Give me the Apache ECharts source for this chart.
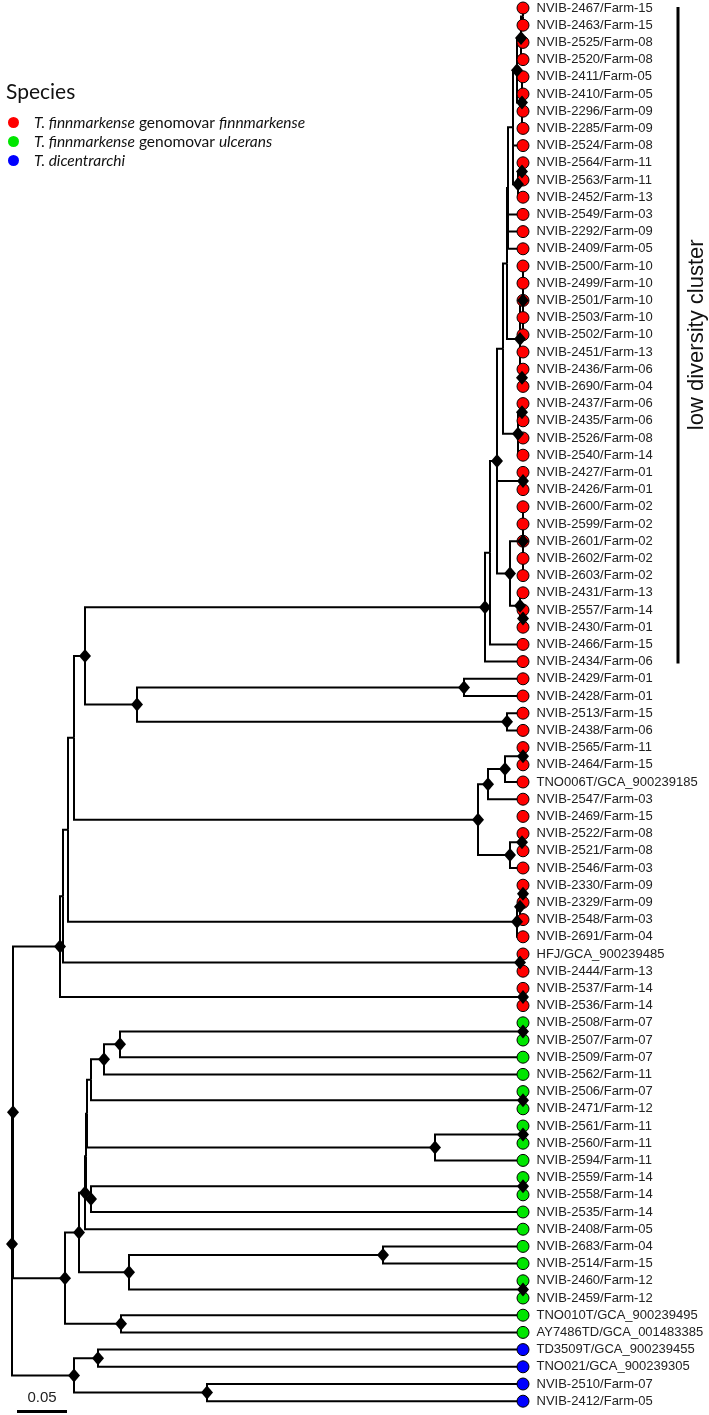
<!DOCTYPE html>
<html>
<head>
<meta charset="utf-8">
<title>Tenacibaculum tree</title>
<script src="https://cdn.jsdelivr.net/npm/echarts@6/dist/echarts.min.js"></script>
<style>
    html, body { margin: 0; padding: 0; background: #fff; }
    #tree { width: 709px; height: 1415px; }
</style>
</head>
<body>
<div id="tree"></div>
<script>
// leaves, top to bottom
const leafNames = [
    'NVIB-2467/Farm-15', 'NVIB-2463/Farm-15', 'NVIB-2525/Farm-08', 'NVIB-2520/Farm-08',
    'NVIB-2411/Farm-05', 'NVIB-2410/Farm-05', 'NVIB-2296/Farm-09', 'NVIB-2285/Farm-09',
    'NVIB-2524/Farm-08', 'NVIB-2564/Farm-11', 'NVIB-2563/Farm-11', 'NVIB-2452/Farm-13',
    'NVIB-2549/Farm-03', 'NVIB-2292/Farm-09', 'NVIB-2409/Farm-05', 'NVIB-2500/Farm-10',
    'NVIB-2499/Farm-10', 'NVIB-2501/Farm-10', 'NVIB-2503/Farm-10', 'NVIB-2502/Farm-10',
    'NVIB-2451/Farm-13', 'NVIB-2436/Farm-06', 'NVIB-2690/Farm-04', 'NVIB-2437/Farm-06',
    'NVIB-2435/Farm-06', 'NVIB-2526/Farm-08', 'NVIB-2540/Farm-14', 'NVIB-2427/Farm-01',
    'NVIB-2426/Farm-01', 'NVIB-2600/Farm-02', 'NVIB-2599/Farm-02', 'NVIB-2601/Farm-02',
    'NVIB-2602/Farm-02', 'NVIB-2603/Farm-02', 'NVIB-2431/Farm-13', 'NVIB-2557/Farm-14',
    'NVIB-2430/Farm-01', 'NVIB-2466/Farm-15', 'NVIB-2434/Farm-06', 'NVIB-2429/Farm-01',
    'NVIB-2428/Farm-01', 'NVIB-2513/Farm-15', 'NVIB-2438/Farm-06', 'NVIB-2565/Farm-11',
    'NVIB-2464/Farm-15', 'TNO006T/GCA_900239185', 'NVIB-2547/Farm-03', 'NVIB-2469/Farm-15',
    'NVIB-2522/Farm-08', 'NVIB-2521/Farm-08', 'NVIB-2546/Farm-03', 'NVIB-2330/Farm-09',
    'NVIB-2329/Farm-09', 'NVIB-2548/Farm-03', 'NVIB-2691/Farm-04', 'HFJ/GCA_900239485',
    'NVIB-2444/Farm-13', 'NVIB-2537/Farm-14', 'NVIB-2536/Farm-14', 'NVIB-2508/Farm-07',
    'NVIB-2507/Farm-07', 'NVIB-2509/Farm-07', 'NVIB-2562/Farm-11', 'NVIB-2506/Farm-07',
    'NVIB-2471/Farm-12', 'NVIB-2561/Farm-11', 'NVIB-2560/Farm-11', 'NVIB-2594/Farm-11',
    'NVIB-2559/Farm-14', 'NVIB-2558/Farm-14', 'NVIB-2535/Farm-14', 'NVIB-2408/Farm-05',
    'NVIB-2683/Farm-04', 'NVIB-2514/Farm-15', 'NVIB-2460/Farm-12', 'NVIB-2459/Farm-12',
    'TNO010T/GCA_900239495', 'AY7486TD/GCA_001483385', 'TD3509T/GCA_900239455',
    'TNO021/GCA_900239305', 'NVIB-2510/Farm-07', 'NVIB-2412/Farm-05'
];
// 0 = genomovar finnmarkense, 1 = genomovar ulcerans, 2 = T. dicentrarchi
const leafSpecies = [
    0, 0, 0, 0, 0, 0, 0, 0, 0, 0, 0, 0, 0, 0, 0, 0, 0, 0, 0, 0,
    0, 0, 0, 0, 0, 0, 0, 0, 0, 0, 0, 0, 0, 0, 0, 0, 0, 0, 0, 0,
    0, 0, 0, 0, 0, 0, 0, 0, 0, 0, 0, 0, 0, 0, 0, 0, 0, 0, 0,
    1, 1, 1, 1, 1, 1, 1, 1, 1, 1, 1, 1, 1, 1, 1, 1, 1, 1, 1,
    2, 2, 2, 2
];
const speciesKeys = ['finnmarkense', 'ulcerans', 'dicentrarchi'];
const speciesColors = ['#ff0000', '#00e600', '#0000ff'];

// all leaves sit at the same distance from the root
const tipDepth = 0.511;

// internal nodes: id, distance from root, children (numbers = leaf rows, strings = node ids)
const nodeIds = [
    'root', 'Na', 'M1', 'N62', 'N66', 'N73', 'N85', 'CR', 'CA', 'A',
    'N503', 'N507', 'U1', 'U2', 'N517a', 'T0123', 'T01', 'T47', 'N518b', 'T910',
    'N520b', 'T1519', 'T2122', 'N518', 'T2324', 'T2728', 'N510b', 'TX', 'TY', 'T3536',
    'N137', 'N464', 'N507c', 'N478', 'N488', 'N505', 'T4344', 'N510', 'T4849', 'T3',
    'T2', 'T1', 'T5556', 'T5758', 'G', 'N79', 'Q', 'X', 'P1', 'N91a',
    'N104', 'N120', 'T5960', 'T6364', 'N435', 'T6566', 'N91b', 'T6869', 'N129', 'N383',
    'T7475', 'N121', 'B', 'N97', 'N207'
];
const nodeDepth = [
    0.000, 0.001, 0.048, 0.051, 0.056, 0.062, 0.073, 0.473, 0.478, 0.485,
    0.491, 0.495, 0.496, 0.501, 0.505, 0.509, 0.511, 0.510, 0.506, 0.510,
    0.508, 0.511, 0.510, 0.506, 0.510, 0.511, 0.498, 0.511, 0.508, 0.511,
    0.125, 0.452, 0.495, 0.466, 0.476, 0.493, 0.511, 0.498, 0.510, 0.505,
    0.508, 0.511, 0.508, 0.511, 0.053, 0.067, 0.073, 0.074, 0.075, 0.079,
    0.092, 0.108, 0.511, 0.511, 0.423, 0.511, 0.079, 0.511, 0.117, 0.371,
    0.511, 0.109, 0.062, 0.086, 0.195
];
const nodeKids = [
    ['Na', 'B'], ['M1', 'G'], ['N62', 'T5758'], ['N66', 'T5556'], ['N73', 'T3'],
    ['N85', 'N478'], ['CR', 'N137'], ['CA', 38], ['A', 37], ['N503', 'T2728', 'N510b'],
    ['N507', 'N518'], ['U1', 'N520b'], ['U2', 12, 13, 14], ['N517a', 8, 'N518b'], ['T0123', 'T47'],
    ['T01', 2, 3], [0, 1], [4, 5, 6, 7], ['T910', 11], [9, 10],
    ['T1519', 20, 'T2122'], [15, 16, 17, 18, 19], [21, 22], ['T2324', 25, 26], [23, 24],
    [27, 28], ['TX', 'TY'], [29, 30, 31, 32, 33], [34, 'T3536'], [35, 36],
    ['N464', 'N507c'], [39, 40], [41, 42], ['N488', 'N510'], ['N505', 46],
    ['T4344', 45], [43, 44], ['T4849', 50], [48, 49], ['T2', 54],
    ['T1', 53], [51, 52], [55, 56], [57, 58], ['N79', 'N121'],
    ['Q', 'N129'], ['X', 71], ['P1', 'N91b'], ['N91a', 'N435'], ['N104', 'T6364'],
    ['N120', 62], ['T5960', 61], [59, 60], [63, 64], ['T6566', 67],
    [65, 66], ['T6869', 70], [68, 69], ['N383', 'T7475'], [72, 73],
    [74, 75], [76, 77], ['N97', 'N207'], [78, 79], [80, 81]
];
// nodes drawn without a support diamond
const unmarkedNodes = ['N62', 'N66', 'N73', 'CA', 'N503', 'N507', 'U1', 'U2', 'T01', 'N91a', 'P1', 'X'];

const scaleBar = 0.05;
const clusterRows = [0, 38];
const clusterLabel = 'low diversity cluster';

// --- layout (rectangular cladogram, leaves at integer rows) ---
const nodeIndex = {};
nodeIds.forEach((id, i) => { nodeIndex[id] = i; });
const yCache = {};
function rowOf(k) {
    if (typeof k === 'number') return k;
    if (yCache[k] === undefined) {
        const kids = nodeKids[nodeIndex[k]];
        yCache[k] = (rowOf(kids[0]) + rowOf(kids[kids.length - 1])) / 2;
    }
    return yCache[k];
}
function depthOf(k) {
    return typeof k === 'number' ? tipDepth : nodeDepth[nodeIndex[k]];
}

const branchData = [];
nodeIds.forEach((id, i) => {
    nodeKids[i].forEach(k => {
        branchData.push([nodeDepth[i], rowOf(id), depthOf(k), rowOf(k)]);
    });
});
const diamondData = nodeIds
    .filter(id => unmarkedNodes.indexOf(id) < 0)
    .map(id => [depthOf(id), rowOf(id)]);

const leafSeries = speciesKeys.map((key, s) => ({
    name: key,
    type: 'scatter',
    z: 3,
    symbol: 'circle',
    symbolSize: 12,
    itemStyle: { color: speciesColors[s], borderColor: '#000', borderWidth: 1, opacity: 1 },
    label: {
        show: true,
        position: 'right',
        distance: 7,
        formatter: p => p.data[2],
        color: '#222',
        fontSize: 13,
        fontFamily: '"Liberation Sans", Arial, sans-serif'
    },
    emphasis: { disabled: true },
    data: leafNames.map((n, i) => [tipDepth, i, n]).filter((d, i) => leafSpecies[i] === s)
}));

const legendText = {
    finnmarkense: '{g| }{i|T. finnmarkense} {n|genomovar} {i|finnmarkense}',
    ulcerans: '{g| }{i|T. finnmarkense} {n|genomovar} {i|ulcerans}',
    dicentrarchi: '{g| }{i|T. dicentrarchi}'
};

const chart = echarts.init(document.getElementById('tree'), null, { renderer: 'canvas' });
const rowPx = 17.2;
const legendFont = 'Lato, "Open Sans", sans-serif';

chart.setOption({
    animation: false,
    backgroundColor: '#fff',
    title: {
        text: 'Species',
        left: 1,
        top: 77,
        textStyle: { fontSize: 21, fontWeight: 'normal', color: '#111', fontFamily: legendFont }
    },
    legend: {
        orient: 'vertical',
        left: 3,
        top: 108,
        itemWidth: 11,
        itemHeight: 11,
        itemGap: 0,
        icon: 'circle',
        selectedMode: false,
        itemStyle: { borderWidth: 0 },
        data: speciesKeys,
        formatter: name => legendText[name],
        textStyle: {
            lineHeight: 19,
            fontSize: 15.5,
            color: '#111',
            fontFamily: legendFont,
            rich: {
                g: { width: 10 },
                i: { fontStyle: 'italic', fontSize: 15.5, fontFamily: legendFont },
                n: { fontSize: 15.5, fontFamily: legendFont }
            }
        }
    },
    grid: { left: 12, top: 8, width: 511, height: rowPx * 81 },
    xAxis: { type: 'value', min: 0, max: tipDepth, show: false },
    yAxis: { type: 'value', min: 0, max: 81, inverse: true, show: false },
    series: [
        {
            name: 'branches',
            type: 'custom',
            z: 1,
            silent: true,
            renderItem: (params, api) => {
                const a = api.coord([api.value(0), api.value(1)]);
                const b = api.coord([api.value(0), api.value(3)]);
                const c = api.coord([api.value(2), api.value(3)]);
                return {
                    type: 'polyline',
                    shape: { points: [a, b, c] },
                    style: { stroke: '#000', lineWidth: 2, fill: null, lineJoin: 'miter' }
                };
            },
            encode: { x: [0, 2], y: [1, 3] },
            data: branchData
        },
        ...leafSeries,
        {
            name: 'support',
            type: 'scatter',
            z: 4,
            silent: true,
            symbol: 'diamond',
            symbolSize: [12, 14],
            itemStyle: { color: '#000', opacity: 1 },
            data: diamondData
        },
        {
            name: 'scale',
            type: 'custom',
            silent: true,
            renderItem: (params, api) => {
                const a = api.coord([0.005, 81.6]);
                const b = api.coord([0.005 + api.value(0), 81.6]);
                return {
                    type: 'group',
                    children: [
                        { type: 'line', shape: { x1: a[0], y1: a[1], x2: b[0], y2: b[1] }, style: { stroke: '#000', lineWidth: 3 } },
                        {
                            type: 'text',
                            style: {
                                x: (a[0] + b[0]) / 2, y: a[1] - 6, text: String(api.value(0)),
                                textAlign: 'center', textVerticalAlign: 'bottom',
                                fontSize: 15, fill: '#222', fontFamily: '"Liberation Sans", Arial, sans-serif'
                            }
                        }
                    ]
                };
            },
            data: [[scaleBar]]
        },
        {
            name: 'cluster',
            type: 'custom',
            silent: true,
            renderItem: (params, api) => {
                const top = api.coord([tipDepth, api.value(0)]);
                const bot = api.coord([tipDepth, api.value(1)]);
                const x = top[0] + 155;
                return {
                    type: 'group',
                    children: [
                        { type: 'line', shape: { x1: x, y1: top[1] - 1, x2: x, y2: bot[1] + 2 }, style: { stroke: '#000', lineWidth: 3 } },
                        {
                            type: 'text',
                            x: x + 19, y: (top[1] + bot[1]) / 2,
                            rotation: Math.PI / 2,
                            style: {
                                text: clusterLabel, textAlign: 'center', textVerticalAlign: 'middle',
                                fontSize: 22, fill: '#111', fontFamily: '"Liberation Sans", Arial, sans-serif'
                            }
                        }
                    ]
                };
            },
            data: [clusterRows]
        }
    ]
});
</script>
</body>
</html>
